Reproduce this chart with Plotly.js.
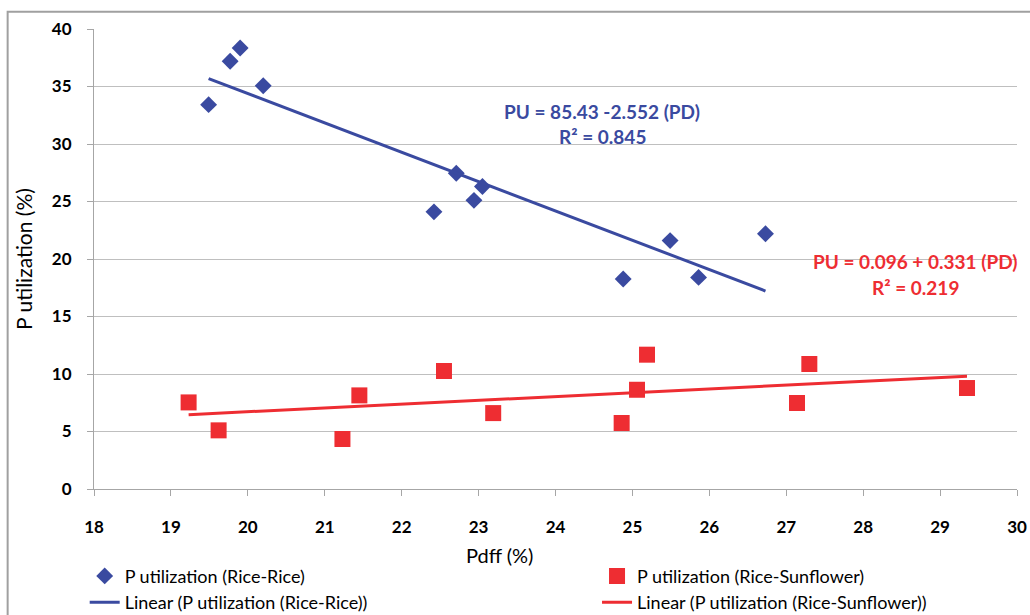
<!DOCTYPE html>
<html>
<head>
<meta charset="utf-8">
<script src="https://cdn.plot.ly/plotly-3.0.1.min.js"></script>
<style>html,body{margin:0;padding:0;background:#fff;}#chart{width:1030px;height:615px;}</style>
</head>
<body>
<div id="chart"></div>
<script>
// Rice-Rice
var rrX = [19.49, 19.77, 19.90, 20.20, 22.42, 22.71, 22.94, 23.05, 24.88, 25.49, 25.86, 26.73];
var rrY = [33.42, 37.2, 38.35, 35.07, 24.1, 27.45, 25.1, 26.3, 18.26, 21.6, 18.4, 22.2];
// Rice-Sunflower
var rsX = [19.23, 19.62, 21.23, 21.45, 22.55, 23.19, 24.86, 25.06, 25.19, 27.14, 27.30, 29.35];
var rsY = [7.53, 5.1, 4.35, 8.14, 10.26, 6.6, 5.74, 8.63, 11.68, 7.48, 10.87, 8.78];
// Trendline coefficients as printed on the chart
var rrFit = {intercept: 85.43, slope: -2.552, r2: 0.845};
var rsFit = {intercept: 0.096, slope: 0.331, r2: 0.219};
var names = ['P utilization (Rice-Rice)', 'P utilization (Rice-Sunflower)',
             'Linear (P utilization (Rice-Rice))', 'Linear (P utilization (Rice-Sunflower))'];
var xTicks = [18,19,20,21,22,23,24,25,26,27,28,29,30];
var yTicks = [0,5,10,15,20,25,30,35,40];

var BLUE = '#3A4AA0', RED = '#EE2D32';
var FONT = 'Lato, "Open Sans", sans-serif';

function fitLine(xs, fit){
  var lo = Math.min.apply(null, xs), hi = Math.max.apply(null, xs);
  return {x: [lo, hi], y: [fit.intercept + fit.slope*lo, fit.intercept + fit.slope*hi]};
}
var rrL = fitLine(rrX, rrFit), rsL = fitLine(rsX, rsFit);

var traces = [
  {x: rrX, y: rrY, mode: 'markers', type: 'scatter', name: names[0], legend: 'legend', legendgroup: 'a',
   marker: {symbol: 'diamond', size: 13, color: BLUE}},
  {x: rrL.x, y: rrL.y, mode: 'lines', type: 'scatter', name: names[2], legend: 'legend', legendgroup: 'b',
   line: {color: BLUE, width: 3}},
  {x: rsX, y: rsY, mode: 'markers', type: 'scatter', name: names[1], legend: 'legend2', legendgroup: 'c',
   marker: {symbol: 'square', size: 16, color: RED}},
  {x: rsL.x, y: rsL.y, mode: 'lines', type: 'scatter', name: names[3], legend: 'legend2', legendgroup: 'd',
   line: {color: RED, width: 3}}
];

var L = 94.3, R = 1016.7, T = 29.3, B = 489.3;
function px(p){ return (p - L)/(R - L); }
function py(p){ return (B - p)/(B - T); }

var legFont = {family: FONT, size: 18, color: '#000'};
function ann(x, y, text, size, color, weight){
  return {xref: 'paper', yref: 'paper', x: px(x), y: py(y), xanchor: 'center', yanchor: 'middle',
          text: text, showarrow: false, font: {family: FONT, size: size, color: color, weight: weight}};
}
var layout = {
  width: 1030, height: 615,
  margin: {l: L, r: 1030 - R, t: T, b: 615 - B, autoexpand: false},
  paper_bgcolor: '#fff', plot_bgcolor: '#fff',
  font: {family: FONT, color: '#000'},
  showlegend: true,
  xaxis: {range: [18, 30], tickvals: xTicks, ticktext: xTicks.map(String), showgrid: false, zeroline: false,
          showline: true, linecolor: '#A6A6A6', linewidth: 1, ticks: 'outside', ticklen: 6, tickcolor: '#A6A6A6',
          tickfont: {family: FONT, size: 17, color: '#000', weight: 'bold'}, ticklabelstandoff: 17},
  yaxis: {range: [0, 40], tickvals: yTicks, ticktext: yTicks.map(String), showgrid: true, gridcolor: '#BFBFBF', zeroline: false,
          showline: true, linecolor: '#A6A6A6', linewidth: 1, ticks: 'outside', ticklen: 6, tickcolor: '#A6A6A6',
          tickfont: {family: FONT, size: 17, color: '#000', weight: 'bold'}, ticklabelstandoff: 12,
          title: {text: 'P utilization (%)', font: {family: FONT, size: 21, color: '#000'}, standoff: 13}},
  legend: {orientation: 'v', x: px(85), xanchor: 'left', y: py(558), yanchor: 'top', font: legFont,
           bgcolor: 'rgba(0,0,0,0)', tracegroupgap: 0, itemwidth: 30},
  legend2: {orientation: 'v', x: px(597), xanchor: 'left', y: py(558), yanchor: 'top', font: legFont,
           bgcolor: 'rgba(0,0,0,0)', tracegroupgap: 0, itemwidth: 30},
  annotations: [
    ann(500, 555, 'Pdff (%)', 20, '#000', 'normal'),
    ann(602, 112, 'PU = ' + rrFit.intercept + ' -' + Math.abs(rrFit.slope) + ' (PD)', 19, BLUE, 'bold'),
    ann(602, 137, 'R² = ' + rrFit.r2, 19, BLUE, 'bold'),
    ann(915, 262, 'PU = ' + rsFit.intercept + ' + ' + rsFit.slope + ' (PD)', 19, RED, 'bold'),
    ann(915, 288, 'R² = ' + rsFit.r2, 19, RED, 'bold')
  ],
  shapes: [
    {type: 'rect', xref: 'paper', yref: 'paper', x0: px(8), x1: px(1060), y0: py(12), y1: py(640),
     line: {color: '#A0A0A0', width: 2}, layer: 'below'}
  ]
};

Plotly.newPlot('chart', traces, layout, {displayModeBar: false, staticPlot: true});
</script>
</body>
</html>
